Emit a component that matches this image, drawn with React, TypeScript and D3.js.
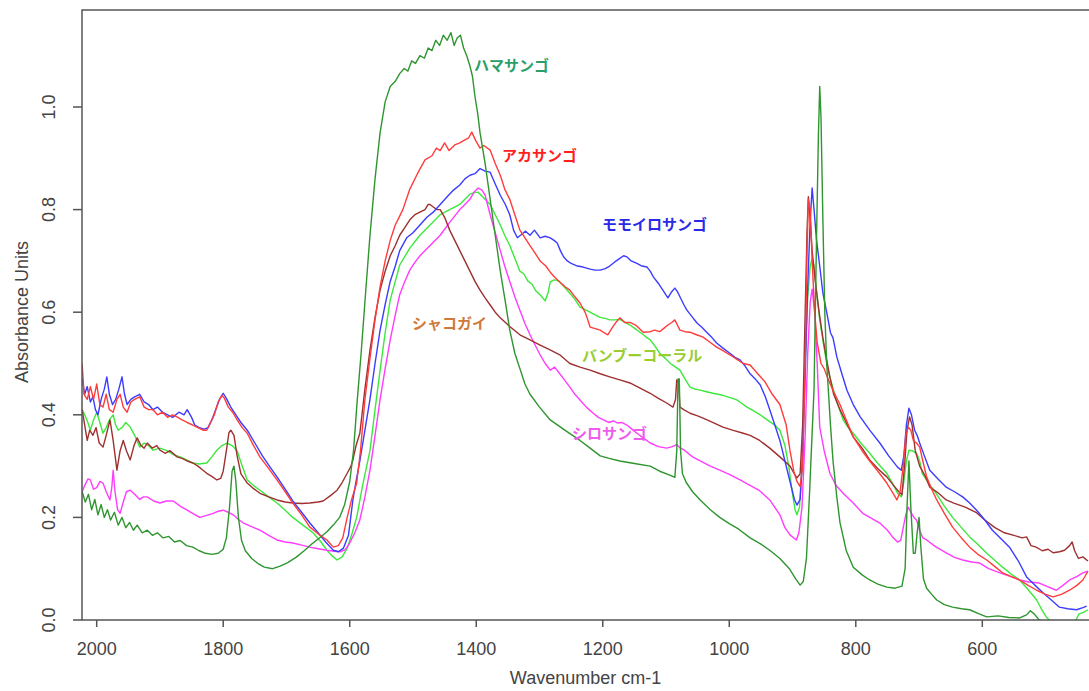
import React from "react";
import * as d3 from "d3";

type P = [number, number];

// wavenumber (cm-1), absorbance
const HAMA: P[] = [[2023,0.25],[2018,0.23],[2013,0.245],[2008,0.215],[2003,0.235],[1998,0.205],[1993,0.225],[1988,0.2],[1983,0.215],[1978,0.195],[1972,0.21],[1966,0.185],[1960,0.2],[1954,0.18],[1948,0.19],[1942,0.175],[1936,0.185],[1928,0.17],[1920,0.175],[1912,0.165],[1904,0.17],[1895,0.16],[1886,0.163],[1877,0.152],[1868,0.155],[1858,0.145],[1848,0.142],[1838,0.135],[1828,0.13],[1818,0.128],[1808,0.13],[1800,0.138],[1795,0.16],[1790,0.22],[1786,0.29],[1783,0.3],[1780,0.27],[1776,0.2],[1771,0.155],[1765,0.135],[1755,0.12],[1745,0.11],[1735,0.103],[1722,0.1],[1710,0.105],[1698,0.112],[1685,0.122],[1672,0.135],[1660,0.148],[1648,0.16],[1636,0.172],[1626,0.185],[1616,0.2],[1608,0.225],[1600,0.27],[1594,0.33],[1588,0.43],[1582,0.52],[1576,0.62],[1568,0.75],[1560,0.86],[1552,0.95],[1544,1.01],[1536,1.04],[1528,1.05],[1521,1.065],[1514,1.075],[1508,1.07],[1502,1.09],[1496,1.085],[1489,1.1],[1482,1.095],[1476,1.115],[1470,1.11],[1464,1.13],[1458,1.12],[1452,1.14],[1446,1.13],[1440,1.145],[1435,1.12],[1430,1.135],[1425,1.14],[1420,1.115],[1415,1.1],[1410,1.08],[1406,1.06],[1402,1.02],[1398,0.99],[1394,0.95],[1386,0.89],[1378,0.82],[1370,0.75],[1362,0.68],[1354,0.62],[1347,0.565],[1339,0.52],[1331,0.49],[1323,0.46],[1315,0.44],[1300,0.415],[1283,0.39],[1260,0.37],[1236,0.35],[1220,0.335],[1204,0.32],[1190,0.315],[1173,0.31],[1150,0.305],[1125,0.3],[1110,0.29],[1093,0.282],[1086,0.278],[1083,0.33],[1081,0.47],[1079,0.47],[1077,0.33],[1074,0.285],[1068,0.268],[1058,0.25],[1046,0.234],[1030,0.215],[1015,0.2],[1000,0.188],[985,0.177],[967,0.16],[950,0.148],[935,0.135],[920,0.12],[905,0.1],[895,0.08],[888,0.068],[883,0.075],[878,0.12],[873,0.25],[866,0.45],[862,0.75],[859,0.95],[857,1.04],[855,0.98],[852,0.78],[849,0.6],[846,0.5],[840,0.38],[836,0.31],[830,0.24],[825,0.19],[815,0.135],[804,0.103],[790,0.088],[778,0.078],[765,0.07],[751,0.064],[738,0.062],[727,0.066],[722,0.1],[719,0.22],[716,0.31],[713,0.22],[709,0.13],[706,0.13],[703,0.17],[700,0.2],[697,0.14],[693,0.08],[688,0.062],[680,0.05],[672,0.039],[660,0.03],[647,0.025],[633,0.022],[620,0.02],[605,0.012],[593,0.006],[575,0.008],[558,0.005],[541,0.004],[530,0.01],[524,0.018],[518,0.012],[510,0.0],[490,-0.005],[470,-0.01],[431,-0.015]];

const AKA: P[] = [[2023,0.5],[2020,0.44],[2015,0.43],[2010,0.455],[2005,0.43],[2000,0.46],[1995,0.42],[1990,0.415],[1985,0.44],[1980,0.41],[1974,0.405],[1968,0.43],[1963,0.44],[1958,0.415],[1952,0.405],[1946,0.425],[1940,0.43],[1932,0.435],[1925,0.415],[1918,0.41],[1911,0.41],[1904,0.4],[1896,0.405],[1888,0.395],[1880,0.4],[1873,0.396],[1865,0.39],[1857,0.385],[1848,0.38],[1840,0.375],[1832,0.37],[1826,0.37],[1820,0.385],[1814,0.4],[1808,0.425],[1802,0.438],[1798,0.432],[1792,0.415],[1785,0.405],[1778,0.39],[1770,0.375],[1762,0.364],[1752,0.34],[1742,0.318],[1728,0.295],[1715,0.273],[1702,0.25],[1690,0.228],[1676,0.205],[1663,0.181],[1650,0.168],[1636,0.156],[1626,0.142],[1618,0.145],[1611,0.16],[1604,0.2],[1597,0.235],[1589,0.267],[1583,0.33],[1576,0.43],[1568,0.51],[1560,0.585],[1552,0.65],[1544,0.7],[1536,0.74],[1528,0.77],[1516,0.8],[1505,0.84],[1493,0.87],[1481,0.897],[1470,0.905],[1463,0.92],[1457,0.915],[1450,0.93],[1443,0.915],[1434,0.926],[1426,0.93],[1418,0.936],[1412,0.94],[1407,0.951],[1401,0.935],[1394,0.92],[1388,0.925],[1378,0.916],[1370,0.89],[1362,0.867],[1355,0.84],[1347,0.82],[1339,0.79],[1331,0.76],[1323,0.745],[1315,0.73],[1307,0.715],[1299,0.7],[1290,0.69],[1283,0.678],[1276,0.668],[1268,0.659],[1260,0.65],[1252,0.643],[1244,0.63],[1236,0.618],[1228,0.6],[1225,0.59],[1220,0.571],[1212,0.568],[1204,0.565],[1198,0.56],[1192,0.556],[1185,0.57],[1178,0.582],[1173,0.589],[1165,0.58],[1157,0.58],[1148,0.575],[1136,0.561],[1125,0.562],[1118,0.565],[1110,0.562],[1104,0.568],[1097,0.575],[1091,0.58],[1086,0.585],[1082,0.575],[1078,0.565],[1070,0.562],[1062,0.561],[1052,0.556],[1042,0.552],[1031,0.542],[1020,0.532],[1010,0.525],[999,0.517],[988,0.508],[978,0.5],[967,0.497],[955,0.48],[944,0.465],[932,0.44],[920,0.42],[910,0.38],[904,0.33],[898,0.29],[893,0.27],[888,0.26],[884,0.3],[880,0.5],[877,0.72],[875,0.82],[872,0.8],[869,0.7],[865,0.6],[861,0.54],[855,0.5],[850,0.49],[844,0.47],[835,0.445],[825,0.42],[815,0.39],[804,0.357],[790,0.33],[778,0.31],[765,0.29],[751,0.267],[740,0.245],[735,0.234],[730,0.25],[725,0.3],[721,0.36],[717,0.376],[713,0.37],[709,0.35],[704,0.345],[699,0.337],[694,0.31],[688,0.279],[680,0.255],[672,0.234],[660,0.208],[647,0.181],[633,0.16],[620,0.142],[607,0.128],[593,0.117],[580,0.104],[568,0.092],[555,0.085],[541,0.078],[528,0.068],[514,0.058],[500,0.05],[488,0.045],[475,0.05],[462,0.058],[450,0.068],[441,0.078],[433,0.095]];

const MOMO: P[] = [[2023,0.47],[2019,0.44],[2015,0.455],[2010,0.425],[2006,0.435],[2002,0.41],[1998,0.4],[1993,0.43],[1988,0.45],[1984,0.474],[1980,0.44],[1975,0.42],[1970,0.43],[1965,0.45],[1960,0.474],[1956,0.44],[1952,0.42],[1946,0.43],[1940,0.435],[1932,0.44],[1925,0.425],[1918,0.42],[1911,0.41],[1904,0.415],[1896,0.405],[1888,0.4],[1880,0.395],[1870,0.405],[1862,0.4],[1857,0.41],[1850,0.395],[1845,0.38],[1838,0.375],[1830,0.372],[1824,0.375],[1818,0.39],[1812,0.41],[1806,0.43],[1800,0.442],[1795,0.432],[1788,0.415],[1780,0.4],[1772,0.385],[1762,0.37],[1750,0.345],[1738,0.32],[1727,0.3],[1715,0.279],[1702,0.255],[1690,0.232],[1676,0.21],[1663,0.189],[1650,0.17],[1638,0.152],[1626,0.136],[1618,0.133],[1610,0.14],[1602,0.165],[1595,0.234],[1590,0.27],[1584,0.31],[1576,0.37],[1568,0.43],[1560,0.5],[1552,0.565],[1544,0.615],[1536,0.66],[1528,0.69],[1521,0.72],[1510,0.745],[1500,0.755],[1489,0.77],[1478,0.785],[1468,0.795],[1457,0.81],[1446,0.825],[1436,0.838],[1426,0.848],[1418,0.86],[1410,0.867],[1402,0.87],[1394,0.88],[1386,0.875],[1378,0.873],[1370,0.85],[1362,0.828],[1354,0.81],[1347,0.79],[1341,0.76],[1335,0.745],[1328,0.752],[1322,0.758],[1315,0.75],[1308,0.76],[1299,0.745],[1291,0.748],[1283,0.745],[1277,0.74],[1272,0.735],[1267,0.72],[1262,0.708],[1256,0.7],[1250,0.695],[1240,0.69],[1231,0.688],[1220,0.684],[1212,0.682],[1204,0.682],[1196,0.685],[1189,0.69],[1181,0.698],[1173,0.705],[1167,0.71],[1162,0.708],[1155,0.7],[1146,0.695],[1138,0.69],[1130,0.688],[1125,0.68],[1120,0.669],[1112,0.656],[1105,0.643],[1097,0.628],[1091,0.64],[1086,0.647],[1082,0.64],[1078,0.63],[1072,0.615],[1067,0.604],[1058,0.59],[1051,0.579],[1043,0.57],[1035,0.56],[1027,0.55],[1020,0.54],[1010,0.53],[999,0.52],[991,0.512],[983,0.507],[975,0.495],[967,0.48],[959,0.47],[951,0.458],[943,0.435],[936,0.41],[928,0.38],[920,0.35],[912,0.31],[904,0.27],[897,0.235],[893,0.224],[888,0.235],[884,0.32],[880,0.48],[876,0.65],[872,0.78],[869,0.842],[866,0.8],[862,0.74],[857,0.69],[852,0.637],[846,0.6],[840,0.56],[836,0.55],[830,0.513],[822,0.48],[814,0.448],[804,0.42],[793,0.396],[778,0.37],[762,0.345],[748,0.32],[734,0.298],[728,0.292],[724,0.32],[720,0.38],[716,0.413],[712,0.4],[707,0.37],[703,0.36],[699,0.345],[691,0.318],[683,0.292],[670,0.275],[657,0.259],[644,0.25],[631,0.24],[620,0.228],[609,0.214],[596,0.195],[584,0.175],[570,0.158],[557,0.142],[543,0.115],[530,0.084],[517,0.068],[504,0.053],[490,0.038],[478,0.025],[465,0.022],[451,0.02],[441,0.024],[435,0.027]];

const SHAKO: P[] = [[2023,0.41],[2019,0.38],[2015,0.35],[2011,0.37],[2006,0.36],[2001,0.375],[1996,0.345],[1990,0.337],[1985,0.36],[1979,0.39],[1974,0.35],[1968,0.292],[1963,0.33],[1958,0.35],[1953,0.33],[1947,0.312],[1941,0.34],[1936,0.355],[1930,0.34],[1925,0.335],[1920,0.345],[1912,0.335],[1905,0.34],[1900,0.331],[1892,0.325],[1884,0.33],[1873,0.318],[1865,0.315],[1857,0.31],[1848,0.306],[1840,0.3],[1832,0.292],[1826,0.286],[1818,0.28],[1810,0.273],[1804,0.276],[1800,0.29],[1795,0.33],[1791,0.365],[1788,0.37],[1783,0.36],[1778,0.32],[1772,0.285],[1762,0.267],[1752,0.256],[1742,0.247],[1728,0.24],[1715,0.234],[1702,0.23],[1690,0.228],[1676,0.227],[1663,0.228],[1650,0.23],[1642,0.232],[1630,0.243],[1620,0.253],[1612,0.268],[1604,0.286],[1598,0.3],[1595,0.312],[1590,0.34],[1584,0.364],[1576,0.45],[1568,0.526],[1560,0.59],[1552,0.643],[1544,0.68],[1536,0.71],[1528,0.73],[1521,0.75],[1513,0.765],[1505,0.78],[1497,0.79],[1489,0.795],[1481,0.8],[1476,0.81],[1473,0.81],[1468,0.805],[1462,0.8],[1457,0.8],[1450,0.785],[1442,0.76],[1434,0.74],[1426,0.72],[1418,0.7],[1410,0.68],[1402,0.66],[1394,0.643],[1386,0.628],[1378,0.614],[1370,0.6],[1362,0.589],[1347,0.572],[1331,0.556],[1315,0.546],[1299,0.536],[1284,0.527],[1268,0.517],[1252,0.5],[1236,0.493],[1220,0.487],[1204,0.48],[1189,0.474],[1173,0.468],[1157,0.462],[1141,0.452],[1125,0.442],[1112,0.432],[1099,0.423],[1089,0.415],[1085,0.43],[1083,0.468],[1080,0.462],[1078,0.415],[1072,0.41],[1062,0.403],[1050,0.398],[1035,0.39],[1022,0.383],[1010,0.376],[995,0.37],[978,0.364],[967,0.36],[952,0.35],[936,0.335],[920,0.318],[904,0.3],[897,0.285],[893,0.277],[888,0.285],[884,0.38],[880,0.6],[877,0.76],[875,0.825],[872,0.78],[869,0.72],[864,0.66],[858,0.6],[852,0.55],[846,0.507],[841,0.474],[835,0.44],[825,0.41],[815,0.385],[804,0.357],[790,0.335],[778,0.312],[765,0.295],[751,0.279],[740,0.262],[732,0.25],[727,0.244],[723,0.3],[719,0.37],[715,0.396],[711,0.38],[706,0.33],[699,0.3],[690,0.28],[683,0.259],[670,0.248],[657,0.234],[645,0.228],[627,0.22],[610,0.21],[596,0.195],[580,0.18],[565,0.17],[550,0.165],[537,0.16],[530,0.162],[523,0.145],[515,0.142],[505,0.135],[496,0.138],[488,0.131],[478,0.133],[470,0.136],[462,0.145],[458,0.152],[454,0.135],[448,0.12],[441,0.123],[433,0.115]];

const BAMBOO: P[] = [[2023,0.41],[2019,0.4],[2014,0.385],[2010,0.37],[2005,0.39],[2000,0.405],[1995,0.385],[1990,0.364],[1985,0.375],[1980,0.39],[1974,0.4],[1970,0.38],[1966,0.37],[1960,0.375],[1954,0.385],[1947,0.376],[1940,0.36],[1932,0.337],[1925,0.345],[1918,0.34],[1911,0.331],[1900,0.335],[1889,0.33],[1878,0.322],[1868,0.318],[1858,0.312],[1848,0.306],[1838,0.304],[1826,0.306],[1818,0.318],[1810,0.331],[1802,0.34],[1794,0.345],[1786,0.34],[1778,0.33],[1770,0.3],[1762,0.273],[1752,0.262],[1742,0.253],[1728,0.24],[1715,0.228],[1702,0.214],[1690,0.2],[1674,0.185],[1658,0.17],[1646,0.153],[1636,0.136],[1628,0.125],[1620,0.117],[1612,0.123],[1604,0.14],[1596,0.17],[1589,0.2],[1580,0.26],[1568,0.33],[1560,0.41],[1552,0.487],[1544,0.56],[1536,0.624],[1528,0.66],[1521,0.692],[1505,0.725],[1489,0.75],[1473,0.77],[1457,0.79],[1442,0.8],[1426,0.81],[1418,0.82],[1410,0.83],[1403,0.833],[1397,0.834],[1390,0.825],[1378,0.81],[1370,0.79],[1362,0.77],[1355,0.75],[1347,0.73],[1339,0.705],[1331,0.68],[1325,0.675],[1318,0.66],[1312,0.655],[1306,0.642],[1299,0.634],[1291,0.622],[1286,0.64],[1283,0.659],[1277,0.663],[1272,0.662],[1268,0.659],[1260,0.648],[1252,0.637],[1244,0.625],[1236,0.61],[1228,0.605],[1220,0.6],[1212,0.595],[1204,0.59],[1196,0.588],[1189,0.585],[1181,0.585],[1173,0.586],[1165,0.58],[1157,0.575],[1149,0.568],[1141,0.561],[1133,0.553],[1125,0.546],[1118,0.535],[1110,0.52],[1101,0.51],[1093,0.5],[1086,0.494],[1078,0.487],[1070,0.47],[1062,0.454],[1054,0.45],[1046,0.448],[1036,0.445],[1026,0.442],[1018,0.44],[1010,0.438],[1000,0.434],[988,0.429],[980,0.422],[972,0.415],[962,0.408],[951,0.4],[940,0.39],[928,0.38],[920,0.37],[912,0.34],[906,0.3],[901,0.253],[896,0.215],[893,0.205],[889,0.22],[885,0.3],[880,0.507],[876,0.63],[872,0.69],[869,0.705],[866,0.69],[862,0.64],[857,0.585],[850,0.53],[846,0.5],[841,0.474],[831,0.43],[820,0.39],[812,0.375],[804,0.364],[792,0.345],[778,0.325],[765,0.305],[751,0.286],[740,0.262],[734,0.247],[728,0.24],[724,0.27],[720,0.31],[716,0.331],[711,0.33],[704,0.325],[699,0.31],[695,0.286],[684,0.265],[673,0.247],[660,0.222],[647,0.2],[633,0.18],[620,0.162],[606,0.146],[593,0.13],[580,0.116],[568,0.103],[555,0.09],[541,0.078],[528,0.06],[514,0.039],[506,0.02],[499,0.006],[494,0.0],[480,-0.005],[460,-0.005],[452,0.0],[447,0.012],[440,0.015],[433,0.02]];

const SHIRO: P[] = [[2023,0.25],[2019,0.262],[2014,0.275],[2010,0.273],[2005,0.255],[2000,0.258],[1995,0.27],[1990,0.267],[1985,0.25],[1979,0.234],[1976,0.26],[1974,0.292],[1971,0.25],[1967,0.215],[1963,0.208],[1958,0.23],[1953,0.25],[1947,0.253],[1940,0.245],[1932,0.235],[1926,0.24],[1920,0.24],[1910,0.232],[1900,0.228],[1890,0.232],[1879,0.232],[1868,0.222],[1857,0.214],[1847,0.207],[1837,0.2],[1826,0.204],[1816,0.208],[1808,0.212],[1800,0.214],[1792,0.21],[1784,0.205],[1776,0.196],[1768,0.189],[1755,0.182],[1742,0.175],[1728,0.165],[1715,0.156],[1702,0.152],[1690,0.15],[1676,0.146],[1663,0.142],[1650,0.139],[1636,0.136],[1625,0.134],[1615,0.133],[1607,0.137],[1600,0.15],[1592,0.17],[1584,0.195],[1576,0.24],[1568,0.292],[1560,0.36],[1552,0.43],[1544,0.49],[1536,0.546],[1528,0.595],[1521,0.634],[1513,0.66],[1505,0.682],[1497,0.697],[1489,0.71],[1473,0.73],[1457,0.75],[1442,0.775],[1426,0.8],[1418,0.81],[1410,0.82],[1403,0.835],[1397,0.842],[1391,0.838],[1386,0.828],[1378,0.79],[1370,0.755],[1362,0.72],[1355,0.69],[1347,0.66],[1339,0.63],[1331,0.604],[1323,0.578],[1315,0.556],[1307,0.536],[1299,0.517],[1291,0.5],[1283,0.487],[1276,0.493],[1268,0.48],[1260,0.467],[1252,0.454],[1244,0.44],[1236,0.429],[1226,0.415],[1215,0.403],[1207,0.395],[1199,0.39],[1190,0.385],[1183,0.388],[1177,0.384],[1170,0.385],[1162,0.38],[1154,0.372],[1146,0.364],[1136,0.355],[1125,0.345],[1112,0.338],[1099,0.335],[1090,0.338],[1083,0.342],[1078,0.336],[1070,0.33],[1058,0.318],[1046,0.31],[1030,0.3],[1015,0.292],[1000,0.284],[983,0.273],[968,0.263],[952,0.252],[936,0.234],[920,0.205],[912,0.18],[904,0.166],[898,0.16],[894,0.156],[890,0.17],[885,0.22],[880,0.36],[876,0.52],[872,0.62],[869,0.645],[865,0.6],[861,0.5],[857,0.376],[850,0.33],[841,0.286],[831,0.262],[820,0.247],[804,0.228],[789,0.208],[775,0.198],[762,0.189],[750,0.175],[742,0.162],[734,0.152],[729,0.155],[725,0.18],[721,0.205],[717,0.22],[713,0.21],[708,0.2],[704,0.195],[699,0.175],[694,0.16],[688,0.156],[674,0.143],[657,0.131],[644,0.122],[631,0.117],[617,0.113],[604,0.111],[590,0.1],[572,0.092],[556,0.085],[541,0.078],[526,0.074],[510,0.072],[497,0.065],[483,0.058],[472,0.068],[462,0.078],[450,0.085],[441,0.092],[433,0.095]];

const X_TICKS = [2000, 1800, 1600, 1400, 1200, 1000, 800, 600];
const Y_TICKS = [0, 0.2, 0.4, 0.6, 0.8, 1.0];
const X_TITLE = "Wavenumber cm-1";
const Y_TITLE = "Absorbance Units";

const SERIES = [
  { name: "バンブーコーラル", data: BAMBOO, color: "#3be83b", label: "#9acd32", lx: 582, ly: 361 },
  { name: "シロサンゴ", data: SHIRO, color: "#ff3cff", label: "#ee5cee", lx: 572, ly: 439 },
  { name: "シャコガイ", data: SHAKO, color: "#9e3030", label: "#cd7a3a", lx: 412, ly: 329 },
  { name: "モモイロサンゴ", data: MOMO, color: "#3c3cff", label: "#2a2ae6", lx: 602, ly: 230 },
  { name: "アカサンゴ", data: AKA, color: "#ff3c3c", label: "#ff2020", lx: 502, ly: 161 },
  { name: "ハマサンゴ", data: HAMA, color: "#2f952f", label: "#2aa068", lx: 474, ly: 71 },
];

export default function App() {
  const W = 1089, H = 691;
  const left = 82, top = 10, bottom = 620, right = 1100;
  const x = d3.scaleLinear().domain([2000, 600]).range([96.7, 982.3]);
  const y = d3.scaleLinear().domain([0, 1]).range([620, 107]);
  const line = d3.line<P>().x(d => x(d[0])).y(d => y(d[1]));
  const axisColor = "#555";
  const textColor = "#444";
  const font = "'Liberation Sans', Arial, sans-serif";
  return (
    <div style={{ position: "absolute", left: 0, top: 0 }}>
      <svg width={W} height={H} style={{ display: "block", background: "#fff" }}>
        <defs>
          <clipPath id="plot">
            <rect x={left} y={top} width={right - left} height={bottom - top} />
          </clipPath>
        </defs>
        <g clipPath="url(#plot)">
          {SERIES.map(s => (
            <path key={s.name} d={line(s.data) || ""} fill="none" stroke={s.color} strokeWidth={1.4} strokeLinejoin="round" />
          ))}
        </g>
        <rect x={left} y={top} width={right - left} height={bottom - top} fill="none" stroke={axisColor} strokeWidth={1.5} />
        {X_TICKS.map(t => (
          <g key={t}>
            <line x1={x(t)} x2={x(t)} y1={bottom} y2={bottom + 7} stroke={axisColor} strokeWidth={1.5} />
            <text x={x(t)} y={655} textAnchor="middle" fontFamily={font} fontSize={18} fill={textColor}>{t}</text>
          </g>
        ))}
        {Y_TICKS.map(t => (
          <g key={t}>
            <line x1={left - 9} x2={left} y1={y(t)} y2={y(t)} stroke={axisColor} strokeWidth={1.5} />
            <text transform={`translate(55,${y(t)}) rotate(-90)`} textAnchor="middle" fontFamily={font} fontSize={18} fill={textColor}>{t.toFixed(1)}</text>
          </g>
        ))}
        <text x={(left + 1089) / 2} y={684} textAnchor="middle" fontFamily={font} fontSize={18} fill={textColor}>{X_TITLE}</text>
        <text transform={`translate(28,312) rotate(-90)`} textAnchor="middle" fontFamily={font} fontSize={18} fill={textColor}>{Y_TITLE}</text>
        {SERIES.map(s => (
          <text key={s.name + "l"} x={s.lx} y={s.ly} fontFamily="'Noto Sans CJK JP', sans-serif" fontWeight="bold" fontSize={15} fill={s.label}>{s.name}</text>
        ))}
      </svg>
    </div>
  );
}
